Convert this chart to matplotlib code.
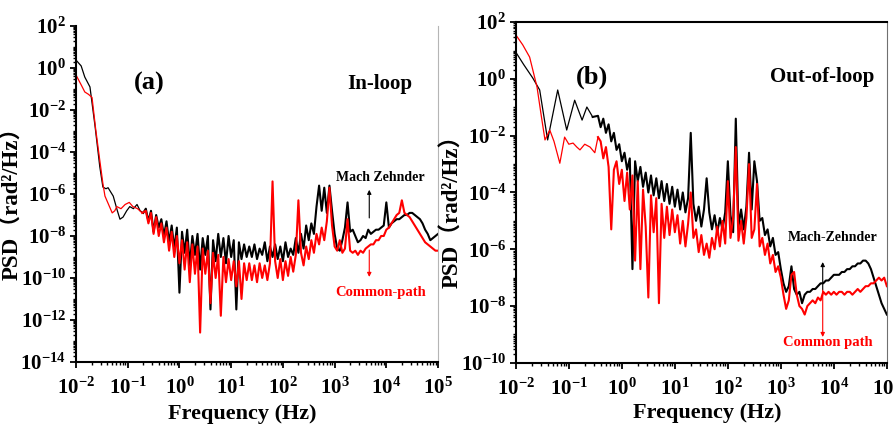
import numpy as np
from matplotlib import pyplot as plt
from matplotlib.ticker import FixedLocator, LogLocator, FuncFormatter, NullFormatter

plt.rcParams['font.family'] = ['Liberation Serif', 'DejaVu Serif']
plt.rcParams['font.weight'] = 'bold'
plt.rcParams['mathtext.fontset'] = 'custom'
plt.rcParams['mathtext.rm'] = 'Liberation Serif:bold'
plt.rcParams['mathtext.it'] = 'Liberation Serif:italic:bold'
plt.rcParams['mathtext.bf'] = 'Liberation Serif:bold'

# log10(frequency / Hz) grid used for the noisy part of every trace
lf_grid = [-0.65, -0.60, -0.55, -0.50, -0.45, -0.40, -0.35, -0.30, -0.25, -0.20,
           -0.15, -0.10, -0.05, 0.00, 0.05, 0.10, 0.15, 0.20, 0.25, 0.30,
           0.35, 0.40, 0.45, 0.50, 0.55, 0.60, 0.65, 0.70, 0.75, 0.80,
           0.85, 0.90, 0.95, 1.00, 1.05, 1.10, 1.15, 1.20, 1.25, 1.30,
           1.35, 1.40, 1.45, 1.50, 1.55, 1.60, 1.65, 1.70, 1.75, 1.80,
           1.85, 1.90, 1.95, 2.00, 2.05, 2.10, 2.15, 2.20, 2.25, 2.30,
           2.35, 2.40, 2.45, 2.50, 2.55, 2.60, 2.65, 2.70, 2.75, 2.80,
           2.85, 2.90, 2.95, 3.00, 3.05, 3.10, 3.15, 3.20, 3.25, 3.30,
           3.35, 3.40, 3.45, 3.50, 3.55, 3.60, 3.65, 3.70, 3.75, 3.80,
           3.85, 3.90, 3.95, 4.00, 4.05, 4.10, 4.15, 4.20, 4.25, 4.30,
           4.35, 4.40, 4.45, 4.50, 4.55, 4.60, 4.65, 4.70, 4.75, 4.80,
           4.85, 4.90, 4.95, 5.00]

# (a) in-loop, Mach-Zehnder: log10 f and log10 PSD
a_mz_lf_low = [-2.00, -1.90, -1.83, -1.73, -1.63, -1.54, -1.48, -1.42, -1.38, -1.33,
               -1.28, -1.20, -1.15, -1.09, -1.02, -0.96, -0.89, -0.82, -0.76, -0.70]
a_mz_lp_low = [0.38, 0.10, -0.43, -0.90, -2.80, -4.70, -5.67, -5.75, -5.70, -5.90,
               -6.10, -6.80, -7.20, -7.10, -6.80, -6.60, -6.70, -6.50, -6.80, -6.90]
a_mz_lp = [-6.7, -7.3, -6.8, -7.8, -7.0, -7.6, -7.2, -8.0, -7.3, -8.3,
           -7.5, -8.6, -7.6, -10.7, -7.8, -8.8, -7.7, -9.4, -8.0, -8.9,
           -7.9, -9.6, -8.1, -8.9, -8.0, -11.5, -8.2, -9.2, -7.9, -9.0,
           -8.1, -9.3, -8.0, -9.0, -8.2, -11.5, -8.3, -9.1, -8.4, -9.0,
           -8.5, -9.0, -8.4, -9.1, -8.6, -8.9, -8.3, -9.2, -8.5, -9.0,
           -8.4, -9.1, -8.5, -9.2, -8.3, -9.0, -8.6, -8.9, -8.1, -8.8,
           -7.9, -8.6, -7.5, -8.2, -7.4, -7.9, -6.6, -5.6, -6.8, -5.7,
           -6.9, -5.6, -6.8, -7.9, -8.6, -8.7, -8.2, -7.6, -6.4, -7.8,
           -7.7, -8.0, -8.3, -8.2, -8.0, -8.1, -7.7, -7.9, -7.8, -7.7,
           -7.7, -7.6, -7.5, -6.4, -7.6, -7.4, -7.3, -7.2, -7.2, -7.1,
           -7.0, -7.0, -6.9, -6.9, -7.0, -7.1, -7.2, -7.4, -7.7, -7.9,
           -8.2, -8.1, -8.0, -7.9]

# (a) in-loop, common-path
a_cp_lf_low = [-2.00, -1.90, -1.83, -1.76, -1.69, -1.62, -1.54, -1.48, -1.44, -1.37,
               -1.30, -1.25, -1.21, -1.13, -1.05, -0.97, -0.90, -0.81, -0.72]
a_cp_lp_low = [-0.33, -0.80, -1.14, -1.25, -1.40, -2.90, -4.40, -5.50, -6.10, -6.50,
               -6.90, -6.80, -6.60, -6.70, -6.50, -6.40, -6.60, -6.70, -6.90]
a_cp_lp = [-6.8, -7.4, -6.9, -7.9, -7.1, -8.0, -7.4, -8.3, -7.6, -8.7,
           -7.8, -9.0, -8.0, -9.3, -8.2, -9.6, -8.3, -10.2, -8.4, -9.8,
           -8.5, -12.6, -8.6, -9.8, -8.7, -11.2, -8.8, -10.0, -8.9, -11.8,
           -9.0, -10.2, -9.1, -10.1, -9.2, -10.4, -9.2, -11.0, -9.3, -10.1,
           -9.3, -10.1, -9.4, -10.2, -9.3, -10.0, -9.4, -10.1, -9.3, -5.4,
           -9.2, -10.0, -9.1, -10.1, -9.2, -9.9, -9.0, -9.7, -8.9, -6.3,
           -8.8, -9.4, -8.5, -9.1, -8.2, -8.8, -7.9, -8.4, -7.6, -8.2,
           -7.3, -5.7, -7.5, -8.5, -8.7, -8.2, -8.8, -8.6, -7.2, -8.7,
           -8.8, -8.7, -8.9, -8.7, -8.8, -8.6, -8.5, -8.4, -8.4, -8.2,
           -8.2, -8.0, -8.0, -7.7, -7.6, -7.4, -7.2, -7.0, -6.9, -6.3,
           -6.9, -7.0, -7.1, -7.3, -7.5, -7.7, -7.9, -8.1, -8.3, -8.4,
           -8.5, -8.6, -8.7, -8.7]

# (b) out-of-loop, Mach-Zehnder (noisy part starts at lf_grid[4])
b_mz_lf_low = [-2.00, -1.85, -1.68, -1.55, -1.40, -1.21, -1.04, -0.89, -0.75, -0.66, -0.55]
b_mz_lp_low = [0.94, 0.50, 0.03, -0.39, -2.15, -0.39, -1.80, -0.75, -1.45, -0.99, -1.34]
b_mz_lp = [-1.3, -1.7, -1.4, -1.9, -1.6, -2.2, -1.9, -2.5, -2.3, -2.9,
           -2.6, -3.2, -2.8, -6.7, -2.9, -3.6, -3.1, -3.8, -3.3, -4.0,
           -3.4, -4.1, -3.5, -4.2, -3.6, -4.3, -3.7, -4.4, -3.8, -4.5,
           -3.9, -4.6, -4.0, -4.7, -4.2, -1.9, -4.4, -5.0, -4.5, -5.2,
           -4.6, -3.5, -4.7, -5.3, -4.8, -5.4, -4.9, -5.3, -4.7, -2.9,
           -4.8, -5.4, -1.4, -5.2, -4.6, -5.3, -4.5, -2.6, -4.6, -2.9,
           -3.6, -5.0, -4.9, -5.5, -5.3, -5.9, -5.6, -6.2, -6.1, -6.7,
           -7.2, -7.5, -7.3, -6.6, -7.4, -7.6, -7.5, -7.9, -7.6, -7.5,
           -7.5, -7.4, -7.4, -7.3, -7.2, -7.2, -7.1, -7.1, -7.0, -6.9,
           -6.9, -6.9, -6.8, -6.8, -6.7, -6.7, -6.6, -6.6, -6.5, -6.5,
           -6.4, -6.4, -6.5, -6.7, -7.0, -7.3, -7.6, -7.9, -8.1, -8.3]

# (b) out-of-loop, common path (noisy part starts at lf_grid[5])
b_cp_lf_low = [-2.00, -1.87, -1.74, -1.60, -1.52, -1.45, -1.36, -1.28, -1.17, -1.08,
               -1.00, -0.92, -0.85, -0.79, -0.70, -0.60, -0.51, -0.45]
b_cp_lp_low = [1.55, 1.20, 0.77, -0.29, -1.30, -2.15, -1.80, -2.20, -2.97, -2.05,
               -2.30, -2.26, -2.40, -2.50, -2.30, -2.40, -2.60, -2.05]
b_cp_lp = [-2.2, -2.8, -2.4, -3.1, -5.3, -3.2, -2.9, -3.7, -3.2, -4.3,
           -3.3, -4.6, -3.4, -6.4, -3.6, -6.7, -3.9, -5.2, -7.7, -4.1,
           -5.4, -4.2, -7.9, -4.4, -5.6, -4.5, -5.5, -4.6, -5.4, -4.8,
           -5.8, -5.0, -5.9, -5.1, -4.0, -5.6, -5.3, -6.1, -5.5, -6.2,
           -5.8, -6.3, -5.6, -6.0, -5.2, -5.9, -5.0, -5.8, -3.6, -5.6,
           -4.9, -2.4, -5.7, -5.0, -5.8, -4.9, -3.0, -5.6, -5.3, -3.7,
           -5.9, -5.6, -6.2, -5.8, -6.5, -6.2, -6.8, -6.6, -7.0, -7.6,
           -8.1, -7.8, -6.9, -6.8, -7.6, -8.0, -8.1, -8.3, -8.0, -7.9,
           -7.8, -7.9, -7.7, -7.8, -7.5, -7.6, -7.5, -7.6, -7.5, -7.6,
           -7.5, -7.5, -7.6, -7.5, -7.5, -7.6, -7.5, -7.4, -7.5, -7.4,
           -7.3, -7.3, -7.2, -7.2, -7.1, -7.0, -7.1, -7.0, -7.3]

x_major = [1e-2, 1e-1, 1e0, 1e1, 1e2, 1e3, 1e4, 1e5]


def draw_trace(ax, lf_low, lp_low, lf_noisy, lp_noisy, color):
    # smooth low-frequency part thin, dense noisy part heavier
    ax.plot(10 ** np.array(lf_low), 10 ** np.array(lp_low), color=color, lw=0.9)
    lf = np.array(lf_low[-1:] + list(lf_noisy))
    lp = np.array(lp_low[-1:] + lp_noisy)
    ax.plot(10 ** lf, 10 ** lp, color=color, lw=1.5)


def exp_label(v, pos):
    return r'$10^{%d}$' % int(round(np.log10(v)))


def style_axis(ax, ymin, ymax):
    ax.set_xscale('log')
    ax.set_yscale('log')
    ax.set_xlim(1e-2, 1e5)
    ax.set_ylim(10.0 ** ymin, 10.0 ** ymax)
    ax.xaxis.set_major_locator(FixedLocator(x_major))
    ax.yaxis.set_major_locator(FixedLocator([10.0 ** e for e in range(ymin, ymax + 1, 2)]))
    ax.xaxis.set_minor_locator(LogLocator(base=10, subs=np.arange(2, 10), numticks=100))
    ax.yaxis.set_minor_locator(LogLocator(base=10, subs=np.arange(1, 10), numticks=100))
    ax.xaxis.set_major_formatter(FuncFormatter(exp_label))
    ax.yaxis.set_major_formatter(FuncFormatter(exp_label))
    ax.xaxis.set_minor_formatter(NullFormatter())
    ax.yaxis.set_minor_formatter(NullFormatter())
    ax.tick_params(which='major', direction='out', length=4, width=1.3, labelsize=15, pad=3)
    ax.tick_params(axis='x', which='major', pad=7)
    ax.tick_params(which='minor', direction='out', length=2, width=1.0)
    for side in ['left', 'bottom']:
        ax.spines[side].set_linewidth(1.5)
    ax.set_xlabel('Frequency (Hz)', fontsize=16, fontweight='bold')
    ax.set_ylabel('PSD（rad²/Hz）', fontsize=16.5, fontweight='bold',
                  family=['Liberation Serif', 'Noto Sans CJK SC'])


fig = plt.figure(figsize=(8.94, 4.34), dpi=100)
ax1 = fig.add_axes([0.085, 0.166, 0.405, 0.774])
ax2 = fig.add_axes([0.577, 0.164, 0.415, 0.785])

# panel (a)
draw_trace(ax1, a_mz_lf_low, a_mz_lp_low, lf_grid, a_mz_lp, 'black')
draw_trace(ax1, a_cp_lf_low, a_cp_lp_low, lf_grid, a_cp_lp, 'red')
style_axis(ax1, -14, 2)
ax1.spines['top'].set_visible(False)
ax1.spines['right'].set_color('#b5b5b5')
ax1.spines['right'].set_linewidth(0.8)
ax1.yaxis.set_label_coords(-0.146, 0.49)
ax1.xaxis.set_label_coords(0.459, -0.125)
ax1.text(10 ** -0.58, 10 ** -0.75, '(a)', fontsize=19, fontweight='bold', ha='center', va='center')
ax1.text(10 ** 3.88, 10 ** -0.75, 'In-loop', fontsize=15, fontweight='bold', ha='center', va='center')
ax1.text(10 ** 3.88, 10 ** -5.2, 'Mach Zehnder', fontsize=10, fontweight='bold', ha='center', va='center')
ax1.text(10 ** 3.88, 10 ** -10.67, 'Common-path', fontsize=10.5, fontweight='bold', color='red',
         ha='center', va='center')
ax1.annotate('', xy=(10 ** 3.67, 10 ** -5.8), xytext=(10 ** 3.67, 10 ** -7.14),
             arrowprops=dict(arrowstyle='-|>', color='black', lw=0.8, mutation_scale=6,
                             shrinkA=0, shrinkB=0))
ax1.annotate('', xy=(10 ** 3.67, 10 ** -9.95), xytext=(10 ** 3.67, 10 ** -8.67),
             arrowprops=dict(arrowstyle='-|>', color='red', lw=0.8, mutation_scale=6,
                             shrinkA=0, shrinkB=0))

# panel (b)
draw_trace(ax2, b_mz_lf_low, b_mz_lp_low, lf_grid[4:], b_mz_lp, 'black')
draw_trace(ax2, b_cp_lf_low, b_cp_lp_low, lf_grid[5:], b_cp_lp, 'red')
style_axis(ax2, -10, 2)
ax2.spines['top'].set_linewidth(1.5)
ax2.spines['right'].set_color('#707070')
ax2.spines['right'].set_linewidth(0.8)
ax2.yaxis.set_label_coords(-0.142, 0.46)
ax2.xaxis.set_label_coords(0.515, -0.117)
ax2.text(10 ** -0.57, 10 ** 0.05, '(b)', fontsize=19, fontweight='bold', ha='center', va='center')
ax2.text(10 ** 3.78, 10 ** 0.05, 'Out-of-loop', fontsize=15, fontweight='bold', ha='center', va='center')
ax2.text(10 ** 3.98, 10 ** -5.6, 'Mach-Zehnder', fontsize=10, fontweight='bold', ha='center', va='center')
ax2.text(10 ** 3.89, 10 ** -9.3, 'Common path', fontsize=10.5, fontweight='bold', color='red',
         ha='center', va='center')
ax2.annotate('', xy=(10 ** 3.79, 10 ** -6.45), xytext=(10 ** 3.79, 10 ** -7.44),
             arrowprops=dict(arrowstyle='-|>', color='black', lw=0.8, mutation_scale=6,
                             shrinkA=0, shrinkB=0))
ax2.annotate('', xy=(10 ** 3.79, 10 ** -9.09), xytext=(10 ** 3.79, 10 ** -7.44),
             arrowprops=dict(arrowstyle='-|>', color='red', lw=0.8, mutation_scale=6,
                             shrinkA=0, shrinkB=0))

fig.savefig('out.png', dpi=100)
